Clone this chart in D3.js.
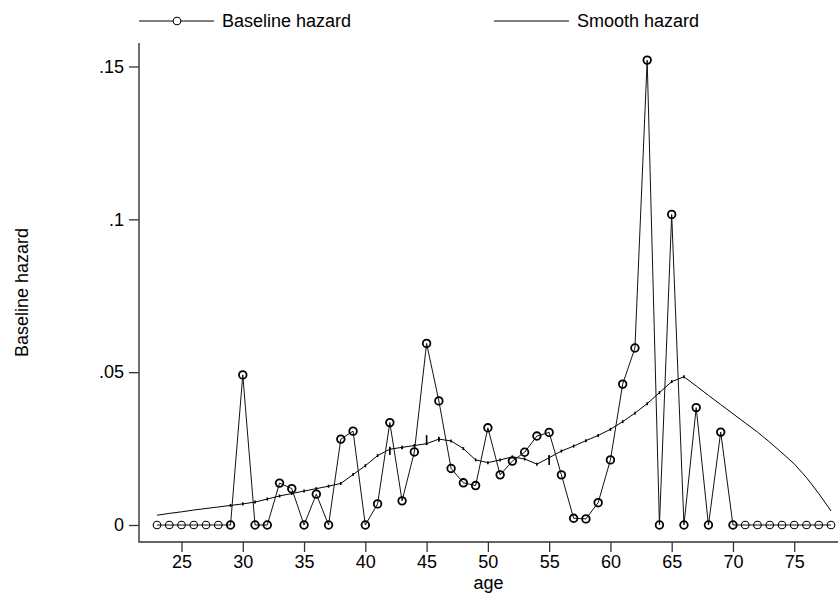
<!DOCTYPE html>
<html>
<head>
<meta charset="utf-8">
<script src="https://cdn.jsdelivr.net/npm/d3@7/dist/d3.min.js"></script>
<style>
  html, body { margin: 0; padding: 0; background: #fff; }
  svg { display: block; font-family: "Liberation Sans", Arial, sans-serif; }
</style>
</head>
<body>
<svg id="chart" width="838" height="594"></svg>
<script>
// Age at which hazard is evaluated
const ages = [23,24,25,26,27,28,29,30,31,32,33,34,35,36,37,38,39,40,41,42,43,44,45,46,47,48,49,50,
              51,52,53,54,55,56,57,58,59,60,61,62,63,64,65,66,67,68,69,70,71,72,73,74,75,76,77,78];

// Baseline hazard contributions at each age
const baselineHazard = [0,0,0,0,0,0,0,.0491,0,0,.0137,.0119,0,.0101,0,.0281,.0307,0,.0069,.0335,
                        .0079,.0239,.0594,.0406,.0185,.0138,.0129,.0318,.0164,.0209,.0238,.0291,.0303,
                        .0164,.0022,.0020,.0073,.0213,.0461,.0579,.1521,0,.1016,0,.0384,0,.0304,
                        0,0,0,0,0,0,0,0,0];

// Kernel-smoothed hazard at each age
const smoothHazard = [.0032,.0038,.0043,.0049,.0054,.0059,.0064,.0069,.0075,.0085,.0095,.0103,.0111,
                      .0119,.0127,.0136,.0165,.0194,.0227,.0248,.0254,.0260,.0266,.0281,.0275,.0250,
                      .0213,.0204,.0213,.0223,.0216,.0199,.0220,.0242,.0258,.0276,.0293,.0313,.0338,
                      .0366,.0397,.0433,.0469,.0485,.0455,.0424,.0394,.0364,.0334,.0304,.0271,.0236,
                      .0200,.0155,.0103,.0046];

// Tied-time jumps in the smoothed curve: [age, low, high]
const smoothJumps = [[42,.0229,.0256],[43,.0248,.0257],[45,.0262,.0294],[46,.0272,.0289],[55,.0196,.0229]];

const xTicks = [25,30,35,40,45,50,55,60,65,70,75];
const yTicks = [0,.05,.1,.15];
const yTickLabels = ["0",".05",".1",".15"];

const svg = d3.select("#chart");
const axisX = 139, axisBottom = 542, axisTop = 43, rightEdge = 838;
const fontSize = 18;

const x = d3.scaleLinear().domain([23,78]).range([157,831]);
const y = d3.scaleLinear().domain([0,.15]).range([525,66.5]);

// axes
const yAxis = d3.axisLeft(y).tickValues(yTicks).tickFormat((d,i) => yTickLabels[i])
  .tickSize(10).tickPadding(5);
const gy = svg.append("g").attr("transform", `translate(${axisX},0)`).call(yAxis);
gy.select(".domain").remove();
gy.selectAll(".tick line").attr("stroke","#333").attr("stroke-width",1.3);
gy.selectAll(".tick text").attr("font-size",fontSize).attr("fill","#000")
  .attr("font-family","Liberation Sans, Arial, sans-serif");

const xAxis = d3.axisBottom(x).tickValues(xTicks).tickFormat(d3.format("d"))
  .tickSize(10).tickPadding(3);
const gx = svg.append("g").attr("transform", `translate(0,${axisBottom})`).call(xAxis);
gx.select(".domain").remove();
gx.selectAll(".tick line").attr("stroke","#333").attr("stroke-width",1.3);
gx.selectAll(".tick text").attr("font-size",fontSize).attr("fill","#000")
  .attr("font-family","Liberation Sans, Arial, sans-serif");

svg.append("path")
  .attr("d", `M${axisX},${axisTop}V${axisBottom}H${rightEdge}`)
  .attr("fill","none").attr("stroke","#333").attr("stroke-width",1.4);

// axis titles
svg.append("text").attr("x", (axisX + rightEdge)/2).attr("y", 589)
  .attr("text-anchor","middle").attr("font-size",fontSize).text("age");
svg.append("text").attr("transform", `translate(28,${(axisTop+axisBottom)/2}) rotate(-90)`)
  .attr("text-anchor","middle").attr("font-size",fontSize).text("Baseline hazard");

// smoothed hazard
const smoothPts = ages.map((a,i) => [a, smoothHazard[i]]);
svg.append("path").datum(smoothPts)
  .attr("d", d3.line().x(d => x(d[0])).y(d => y(d[1])))
  .attr("fill","none").attr("stroke","#000").attr("stroke-width",1);
svg.append("g").selectAll("line").data(smoothPts.filter(d => d[0] >= 29 && d[0] <= 66)).join("line")
  .attr("x1", d => x(d[0])).attr("x2", d => x(d[0]))
  .attr("y1", d => y(d[1]) - 1.5).attr("y2", d => y(d[1]) + 1.5)
  .attr("stroke","#000").attr("stroke-width",1.6);
svg.append("g").selectAll("line").data(smoothJumps).join("line")
  .attr("x1", d => x(d[0])).attr("x2", d => x(d[0]))
  .attr("y1", d => y(d[1])).attr("y2", d => y(d[2]))
  .attr("stroke","#000").attr("stroke-width",1.6);

// baseline hazard, connected hollow circles
const basePts = ages.map((a,i) => [a, baselineHazard[i]]);
svg.append("path").datum(basePts)
  .attr("d", d3.line().x(d => x(d[0])).y(d => y(d[1])))
  .attr("fill","none").attr("stroke","#111").attr("stroke-width",1);
svg.append("g").selectAll("circle").data(basePts).join("circle")
  .attr("cx", d => x(d[0])).attr("cy", d => y(d[1])).attr("r", 3.8)
  .attr("fill","none").attr("stroke","#000")
  .attr("stroke-width", d => (d[1] === 0 && (d[0] < 29 || d[0] > 70)) ? 1.1 : 1.8);

// legend
const legendY = 21;
const lg1 = svg.append("g");
lg1.append("line").attr("x1",139).attr("x2",214).attr("y1",legendY).attr("y2",legendY)
  .attr("stroke","#000").attr("stroke-width",1);
lg1.append("circle").attr("cx",177).attr("cy",legendY).attr("r",3.8)
  .attr("fill","#fff").attr("stroke","#000").attr("stroke-width",1.1);
lg1.append("text").attr("x",222).attr("y",legendY).attr("dy","0.35em")
  .attr("font-size",fontSize).text("Baseline hazard");
const lg2 = svg.append("g");
lg2.append("line").attr("x1",494).attr("x2",569).attr("y1",legendY).attr("y2",legendY)
  .attr("stroke","#000").attr("stroke-width",1);
lg2.append("text").attr("x",577).attr("y",legendY).attr("dy","0.35em")
  .attr("font-size",fontSize).text("Smooth hazard");
</script>
</body>
</html>
